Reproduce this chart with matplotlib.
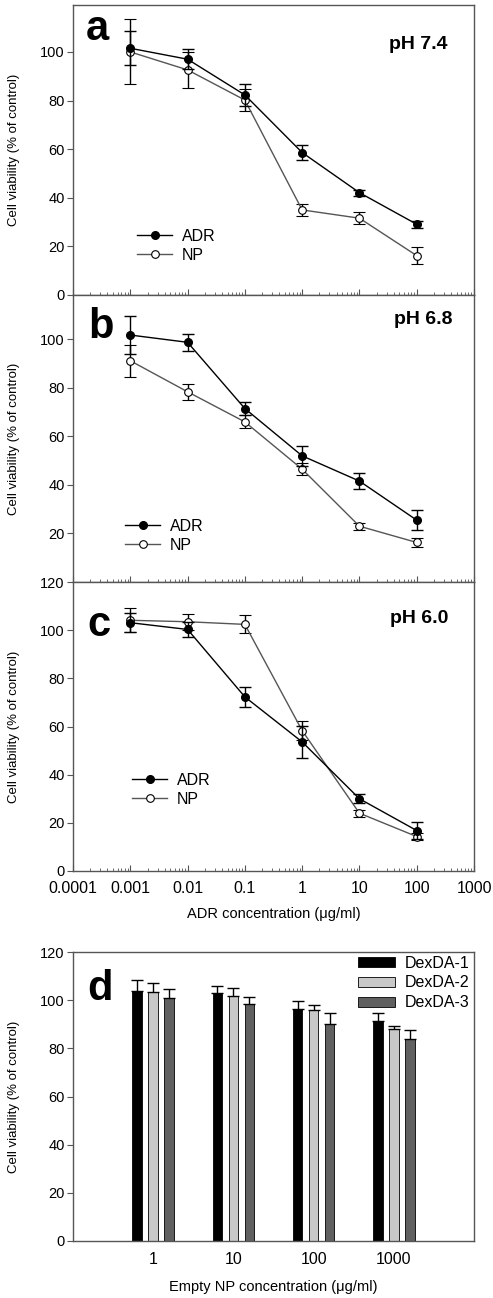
import numpy as np
import matplotlib
matplotlib.use('Agg')
import matplotlib.pyplot as plt
from matplotlib.lines import Line2D
from matplotlib.patches import Patch

plt.rcParams['font.family'] = ['Liberation Sans', 'DejaVu Sans']

# concentrations (ug/ml)
conc = [0.001, 0.01, 0.1, 1, 10, 100]

# panel a, pH 7.4
adr_74 = [101.5, 97.0, 82.3, 58.6, 42.1, 29.1]
adr_74_err = [7.0, 4.0, 4.4, 3.0, 1.3, 1.5]
np_74 = [100.0, 92.6, 80.2, 35.0, 31.6, 16.2]
np_74_err = [13.4, 7.5, 4.5, 2.5, 2.4, 3.4]

# panel b, pH 6.8
adr_68 = [101.8, 98.8, 71.5, 52.0, 41.6, 25.5]
adr_68_err = [8.0, 3.4, 2.8, 4.0, 3.2, 4.0]
np_68 = [91.2, 78.4, 66.0, 46.5, 23.0, 16.3]
np_68_err = [6.6, 3.4, 2.7, 2.5, 1.5, 2.0]

# panel c, pH 6.0
adr_60 = [103.1, 100.3, 72.3, 53.6, 30.0, 16.8]
adr_60_err = [4.0, 3.2, 4.2, 6.7, 1.8, 3.7]
np_60 = [104.1, 103.5, 102.4, 58.3, 24.0, 14.3]
np_60_err = [5.0, 3.3, 3.7, 3.8, 1.5, 1.5]

# panel d, empty NP
np_conc_labels = ['1', '10', '100', '1000']
dexda_names = ['DexDA-1', 'DexDA-2', 'DexDA-3']
dexda_vals = [[103.9, 102.9, 96.3, 91.3],
              [103.4, 101.8, 95.9, 88.1],
              [100.9, 98.4, 90.2, 84.0]]
dexda_err = [[4.3, 2.8, 3.2, 3.3],
             [3.7, 3.1, 2.1, 1.0],
             [3.7, 3.0, 4.4, 3.7]]
dexda_colors = ['#000000', '#c8c8c8', '#606060']

W, H = 493, 1298
fig = plt.figure(figsize=(W / 100, H / 100), dpi=100)


def rect(top, bottom):
    return [73 / W, 1 - bottom / H, 401 / W, (bottom - top) / H]


ax_a = fig.add_axes(rect(5, 295))
ax_b = fig.add_axes(rect(295, 582))
ax_c = fig.add_axes(rect(582, 871))
ax_d = fig.add_axes(rect(952, 1241))

frame_col = '#555555'
ylab = 'Cell viability (% of control)'


def curve_panel(ax, adr, adr_e, npv, np_e, ylim, yticks, letter, letter_pos,
                ph, ph_pos, leg_pos):
    ax.errorbar(conc, npv, yerr=np_e, color='#555555', ecolor='black', lw=1,
                elinewidth=1, capsize=4, marker='o', ms=5.5, mfc='white',
                mec='black', mew=0.8, label='NP', zorder=3)
    ax.errorbar(conc, adr, yerr=adr_e, color='black', ecolor='black', lw=1,
                elinewidth=1, capsize=4, marker='o', ms=5.5, mfc='black',
                mec='black', label='ADR', zorder=4)
    ax.set_xscale('log')
    ax.set_xlim(0.0001, 1000)
    ax.set_ylim(*ylim)
    ax.set_yticks(yticks)
    ax.tick_params(axis='y', direction='out', length=4, labelsize=10.5,
                   color=frame_col, pad=2)
    ax.tick_params(axis='x', which='major', direction='in', length=4,
                   labelsize=11.5, color=frame_col, pad=7)
    ax.tick_params(axis='x', which='minor', direction='in', length=2,
                   color=frame_col)
    for s in ax.spines.values():
        s.set_color(frame_col)
        s.set_linewidth(1)
    ax.set_ylabel(ylab, fontsize=9.5)
    ax.yaxis.set_label_coords(-0.132, 0.5)
    ax.text(letter_pos[0], letter_pos[1], letter, transform=ax.transAxes,
            fontsize=30, fontweight='bold', va='baseline', ha='left')
    ax.text(ph_pos[0], ph_pos[1], ph, transform=ax.transAxes,
            fontsize=14, fontweight='bold', va='baseline', ha='right')
    h = [Line2D([], [], color='black', lw=1, marker='o', ms=5.5, mfc='black',
                mec='black'),
         Line2D([], [], color='#555555', lw=1, marker='o', ms=5.5,
                mfc='white', mec='black', mew=0.8)]
    ax.legend(h, ['ADR', 'NP'], loc='center left', bbox_to_anchor=leg_pos,
              frameon=False, fontsize=11.5, borderpad=0, borderaxespad=0,
              handlelength=2.2, handletextpad=0.6, labelspacing=0.25)


curve_panel(ax_a, adr_74, adr_74_err, np_74, np_74_err, (0, 119.3),
            [0, 20, 40, 60, 80, 100], 'a', (0.032, 0.879),
            'pH 7.4', (0.934, 0.848), (0.16, 0.169))
curve_panel(ax_b, adr_68, adr_68_err, np_68, np_68_err, (0, 118.3),
            [20, 40, 60, 80, 100], 'b', (0.037, 0.849),
            'pH 6.8', (0.947, 0.899), (0.13, 0.162))
curve_panel(ax_c, adr_60, adr_60_err, np_60, np_60_err, (0, 120),
            [0, 20, 40, 60, 80, 100, 120], 'c', (0.036, 0.813),
            'pH 6.0', (0.936, 0.859), (0.147, 0.28))
ax_a.tick_params(axis='x', labelbottom=False)
ax_b.tick_params(axis='x', labelbottom=False)
ax_c.set_xticks([0.0001, 0.001, 0.01, 0.1, 1, 10, 100, 1000])
ax_c.set_xticklabels(['0.0001', '0.001', '0.01', '0.1', '1', '10', '100',
                      '1000'])
ax_c.set_xlim(0.0001, 1000)
ax_c.set_xlabel('ADR concentration (\u03bcg/ml)', fontsize=10.5, va='center')
ax_c.xaxis.set_label_coords(0.5, -(914 - 871) / 289)

# panel d bars
xs = np.arange(len(np_conc_labels))
offsets = [-0.2, 0.0, 0.2]
for i in range(3):
    ax_d.bar(xs + offsets[i], dexda_vals[i], width=0.12,
             color=dexda_colors[i], edgecolor='black', linewidth=0.6,
             label=dexda_names[i], zorder=2)
    ax_d.errorbar(xs + offsets[i], dexda_vals[i],
                  yerr=[np.zeros(4), dexda_err[i]], fmt='none',
                  ecolor='black', elinewidth=1, capsize=4, zorder=3)
ax_d.set_xlim(-1, 4)
ax_d.set_ylim(0, 120)
ax_d.set_yticks([0, 20, 40, 60, 80, 100, 120])
ax_d.set_xticks(xs)
ax_d.set_xticklabels(np_conc_labels)
ax_d.tick_params(axis='x', length=0, labelsize=11.5, pad=8)
ax_d.tick_params(axis='y', direction='out', length=4, labelsize=10.5,
                 color=frame_col, pad=2)
for s in ax_d.spines.values():
    s.set_color(frame_col)
    s.set_linewidth(1)
ax_d.set_ylabel(ylab, fontsize=9.5)
ax_d.yaxis.set_label_coords(-0.132, 0.5)
ax_d.set_xlabel('Empty NP concentration (\u03bcg/ml)', fontsize=10.5,
                va='center')
ax_d.xaxis.set_label_coords(0.5, -(1287 - 1241) / 289)
ax_d.text(0.036, 0.834, 'd', transform=ax_d.transAxes, fontsize=30,
          fontweight='bold', va='baseline', ha='left')
hd = [Patch(facecolor=c, edgecolor='black', linewidth=0.6)
      for c in dexda_colors]
ax_d.legend(hd, dexda_names, loc='center left', bbox_to_anchor=(0.711, 0.893),
            frameon=False, fontsize=11.5, borderpad=0, borderaxespad=0,
            handlelength=2.3, handleheight=0.6, handletextpad=0.6,
            labelspacing=0.3)

fig.savefig('out.png', dpi=100)
